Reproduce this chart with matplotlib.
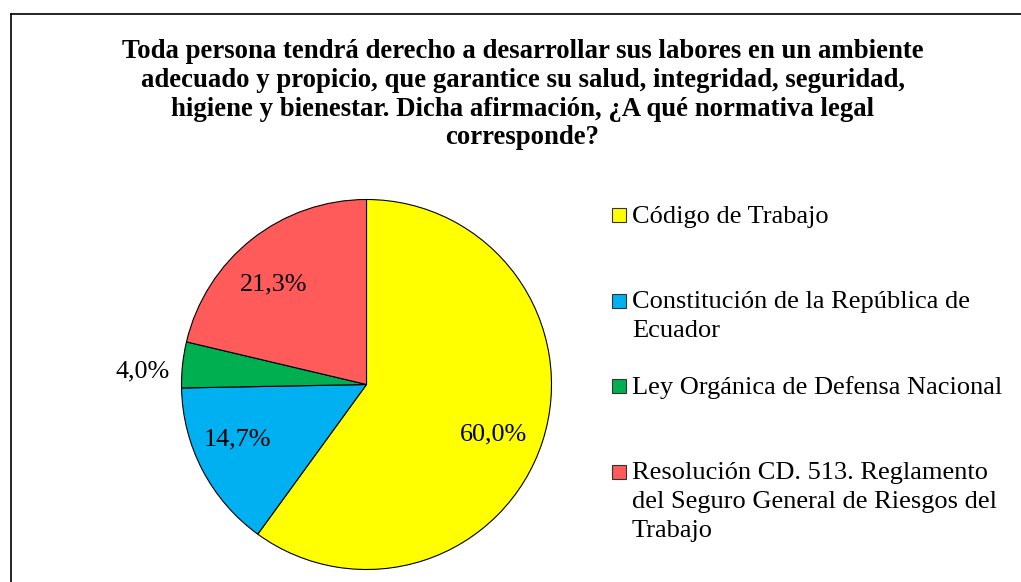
import matplotlib
matplotlib.use("Agg")
from matplotlib import pyplot as plt
from matplotlib.patches import Rectangle
from matplotlib.lines import Line2D
import numpy as np

## chart data
categories = ["Código de Trabajo",
              "Constitución de la República de\nEcuador",
              "Ley Orgánica de Defensa Nacional",
              "Resolución CD. 513. Reglamento\ndel Seguro General de Riesgos del\nTrabajo"]
shares = [60.0, 14.7, 4.0, 21.3]
colors = ["#FFFF00", "#00B0F0", "#00B050", "#FF5B5B"]
title = ("Toda persona tendrá derecho a desarrollar sus labores en un ambiente\n"
         "adecuado y propicio, que garantice su salud, integridad, seguridad,\n"
         "higiene y bienestar. Dicha afirmación, ¿A qué normativa legal\n"
         "corresponde?")

plt.rcParams['font.family'] = ['Liberation Serif', 'DejaVu Serif']

W, H = 1021, 582
fig = plt.figure(figsize=(W/100, H/100), dpi=100)

def fx(px):
    return px/W

def fy(py):
    return 1 - py/H

## outer frame (only left & top edges visible)
fig.add_artist(Line2D([fx(10.5), fx(10.5)], [fy(13.5), fy(H+5)],
                      transform=fig.transFigure, color='black', lw=1.2))
fig.add_artist(Line2D([fx(10.5), fx(W+5)], [fy(13.5), fy(13.5)],
                      transform=fig.transFigure, color='black', lw=1.2))

## title
fig.text(fx(522.5), fy(39), title, ha='center', va='top',
         fontsize=19.3, fontweight='bold', linespacing=1.2)

## pie
cx, cy, r = 366.5, 384.5, 185
ax = fig.add_axes([fx(cx - r), fy(cy + r), 2*r/W, 2*r/H])
wedges, _ = ax.pie(shares, colors=colors, startangle=90, counterclock=False,
                   wedgeprops=dict(edgecolor='black', linewidth=0.8))
ax.set_xlim(-1, 1)
ax.set_ylim(-1, 1)
ax.axis('off')

# label distance (fraction of radius) and angle nudge per slice
label_dist = [0.737, 0.757, 1.21, 0.74]
label_turn = [-3.3, -4.6, 2.9, 4.5]
for w, val, d, t in zip(wedges, shares, label_dist, label_turn):
    mid = np.deg2rad((w.theta1 + w.theta2)/2 + t)
    ax.text(d*np.cos(mid), d*np.sin(mid),
            '{:.1f}%'.format(val).replace('.', ','),
            ha='center', va='center', fontsize=18.8)

## legend, one slot per entry
for i, (lab, col) in enumerate(zip(categories, colors)):
    ymid = 215 + i*85.5
    fig.add_artist(Rectangle((fx(612), fy(ymid + 7)), 14/W, 14/H,
                             transform=fig.transFigure, facecolor=col,
                             edgecolor='#333333', linewidth=0.8))
    fig.text(fx(632), fy(ymid - 9.5), lab, ha='left', va='top',
             fontsize=19, linespacing=1.4)

fig.savefig('out.png', dpi=100)
